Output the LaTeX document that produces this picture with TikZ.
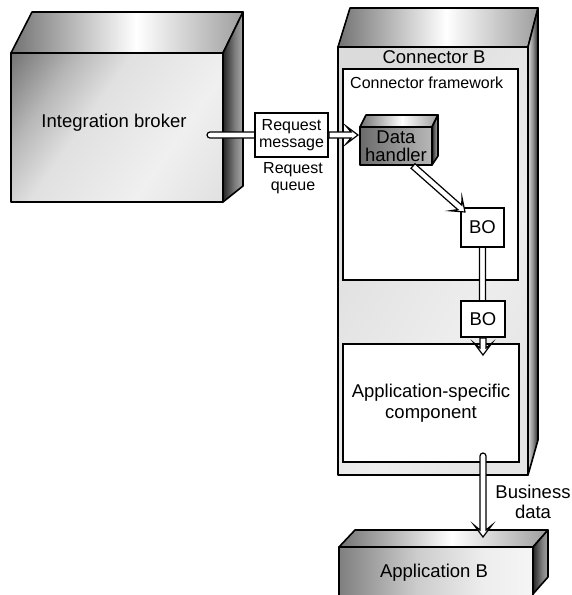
\documentclass[tikz,border=0pt]{standalone}
\usepackage{fontspec}
\setmainfont{Liberation Sans}
\usetikzlibrary{calc}

% shadings: the path bounding box maps to the central 25bp..75bp band
\pgfdeclarehorizontalshading{brokershade}{100bp}{color(0bp)=(black!55); color(15bp)=(black!55); color(30bp)=(black!28); color(42bp)=(black!12); color(65bp)=(black!6); color(85bp)=(black!12); color(100bp)=(black!12)}
\pgfdeclarehorizontalshading{appBshade}{100bp}{color(0bp)=(black!50); color(25bp)=(black!50); color(45bp)=(black!20); color(62bp)=(black!7); color(75bp)=(black!4); color(100bp)=(black!4)}
\pgfdeclarehorizontalshading{topshade}{100bp}{color(0bp)=(black!55); color(25bp)=(black!55); color(52bp)=(white); color(75bp)=(black!38); color(100bp)=(black!38)}
\pgfdeclarehorizontalshading{sideshade}{100bp}{color(0bp)=(black!85); color(25bp)=(black!85); color(55bp)=(black!50); color(75bp)=(black!35); color(100bp)=(black!35)}
\pgfdeclarehorizontalshading{sideshadeB}{100bp}{color(0bp)=(black!15); color(25bp)=(black!15); color(50bp)=(black!45); color(75bp)=(black!85); color(100bp)=(black!85)}
\pgfdeclarehorizontalshading{connBshade}{100bp}{color(0bp)=(black!14); color(25bp)=(black!14); color(60bp)=(black!7); color(75bp)=(black!10); color(100bp)=(black!10)}

\tikzset{
  hollow/.style={draw=black, line width=1.2pt, fill=white, line join=miter, miter limit=10},
  edge3d/.style={draw=black, line width=1.6pt, line join=round},
  plainbox/.style={draw=black, line width=1.8pt, fill=white, inner sep=0pt},
  lbl/.style={font=\fontsize{18.5}{19.5}\selectfont, align=center, inner sep=0pt},
  slbl/.style={font=\fontsize{16}{18}\selectfont, align=center, inner sep=0pt},
  topface/.style={edge3d, shading=topshade},
  sideface/.style={edge3d, shading=sideshade},
  sidefaceB/.style={edge3d, shading=sideshadeB},
}

% hollow arrow with flat start
\newcommand\harrow[2]{%
  \draw[hollow] let \p1=(#1), \p2=(#2),
    \n1={atan2(\y2-\y1,\x2-\x1)}, \n2={veclen(\x2-\x1,\y2-\y1)} in
    [shift={(\p1)}, rotate=\n1]
    (0pt,-3pt) -- (\n2*1pt-7pt,-3pt) -- (\n2*1pt-12pt,-9pt) -- (\n2*1pt,0pt)
    -- (\n2*1pt-12pt,9pt) -- (\n2*1pt-7pt,3pt) -- (0pt,3pt) -- cycle;}
% hollow arrow with round start
\newcommand\harrowr[2]{%
  \draw[hollow] let \p1=(#1), \p2=(#2),
    \n1={atan2(\y2-\y1,\x2-\x1)}, \n2={veclen(\x2-\x1,\y2-\y1)} in
    [shift={(\p1)}, rotate=\n1]
    (0pt,-3pt) -- (\n2*1pt-7pt,-3pt) -- (\n2*1pt-12pt,-9pt) -- (\n2*1pt,0pt)
    -- (\n2*1pt-12pt,9pt) -- (\n2*1pt-7pt,3pt) -- (0pt,3pt)
    arc[start angle=90, end angle=270, radius=3pt] -- cycle;}
% hollow shaft, round start, no head
\newcommand\hshaft[2]{%
  \draw[hollow] let \p1=(#1), \p2=(#2),
    \n1={atan2(\y2-\y1,\x2-\x1)}, \n2={veclen(\x2-\x1,\y2-\y1)} in
    [shift={(\p1)}, rotate=\n1]
    (0pt,-3pt) -- (\n2*1pt,-3pt) -- (\n2*1pt,3pt) -- (0pt,3pt)
    arc[start angle=90, end angle=270, radius=3pt] -- cycle;}

\begin{document}
\begin{tikzpicture}[x=1pt, y=-1pt]
\useasboundingbox (0,0) rectangle (572,595);
\clip (0,0) rectangle (572,595);
\fill[white] (0,0) rectangle (572,595);

% ---------- Integration broker ----------
\draw[topface] (11,53) -- (32,12) -- (243,12) -- (223,53) -- cycle;
\draw[sideface] (223,53) -- (243,12) -- (243,186) -- (223,202) -- cycle;
\node[edge3d, minimum width=212pt, minimum height=149pt, inner sep=0pt,
      shading=brokershade, shading angle=-35]
      (broker) at (117,127.5) {};
\node[lbl] (brokerlbl) at (114,123) {Integration broker};

% ---------- Connector B ----------
\draw[topface] (338,47) -- (350,8) -- (538,8) -- (528,47) -- cycle;
\draw[sidefaceB] (528,47) -- (538,8) -- (538,440) -- (528,475) -- cycle;
\node[edge3d, minimum width=190pt, minimum height=428pt, inner sep=0pt,
      shading=connBshade, shading angle=-30]
      (connB) at (433,261) {};
\node[lbl] (connBlbl) at (434,57) {Connector B};

% Connector framework
\node[plainbox, minimum width=175pt, minimum height=211pt] (frame) at (430.5,174.5) {};
\node[slbl, anchor=west] (framelbl) at (350,83) {Connector framework};

% ---------- Application B ----------
\draw[topface] (339,547) -- (355,530) -- (548,530) -- (533,547) -- cycle;
\draw[sideface] (533,547) -- (548,530) -- (548,577) -- (533,594) -- cycle;
\node[edge3d, minimum width=194pt, minimum height=56pt, inner sep=0pt,
      shading=appBshade]
      (appB) at (436,575) {};
\node[lbl] (appBlbl) at (434,573) {Application B};

% ---------- shafts drawn under boxes ----------
\coordinate (brokerout) at (210,135);
\hshaft{brokerout}{255,135}
\hshaft{482.5,245}{482.5,303}

% ---------- Request message ----------
\node[plainbox, minimum width=73pt, minimum height=44pt, slbl] (req) at (291.5,135)
  {Request\\[-1pt]message};
\node[slbl] (queue) at (293,178) {Request\\[-1pt]queue};

% ---------- Data handler ----------
\draw[edge3d, shading=topshade]
  (360,127) -- (366,115) -- (438,115) -- (432,127) -- cycle;
\draw[edge3d, shading=sideshade]
  (432,127) -- (438,115) -- (438,156) -- (432,165) -- cycle;
\node[edge3d, minimum width=72pt, minimum height=38pt, inner sep=0pt,
      left color=black!58, right color=black!28, lbl]
      (dh) at (396,146) {Data\\[-2pt]handler};

% ---------- BOs ----------
\node[plainbox, minimum width=43pt, minimum height=39pt, lbl] (bo1) at (482.5,227.5) {BO};
\node[plainbox, minimum width=44pt, minimum height=36pt, lbl] (bo2) at (483,319) {BO};

% ---------- Application-specific component ----------
\node[plainbox, minimum width=176pt, minimum height=118pt, lbl] (appspec) at (431,403)
  {Application-specific\\[1pt]component};

% ---------- arrows ----------
\coordinate (dhin) at (358,135);
\harrow{req.east}{dhin}
\coordinate (dhout) at (413,166);
\coordinate (boin) at (465,212);
\harrow{dhout}{boin}
\coordinate (appin) at (483,355);
\harrow{bo2.south}{appin}
\coordinate (appout) at (483,456);
\coordinate (appBin) at (483,537);
\harrowr{appout}{appBin}

\node[lbl] (bizdata) at (533,502) {Business\\[1pt]data};
\end{tikzpicture}
\end{document}
